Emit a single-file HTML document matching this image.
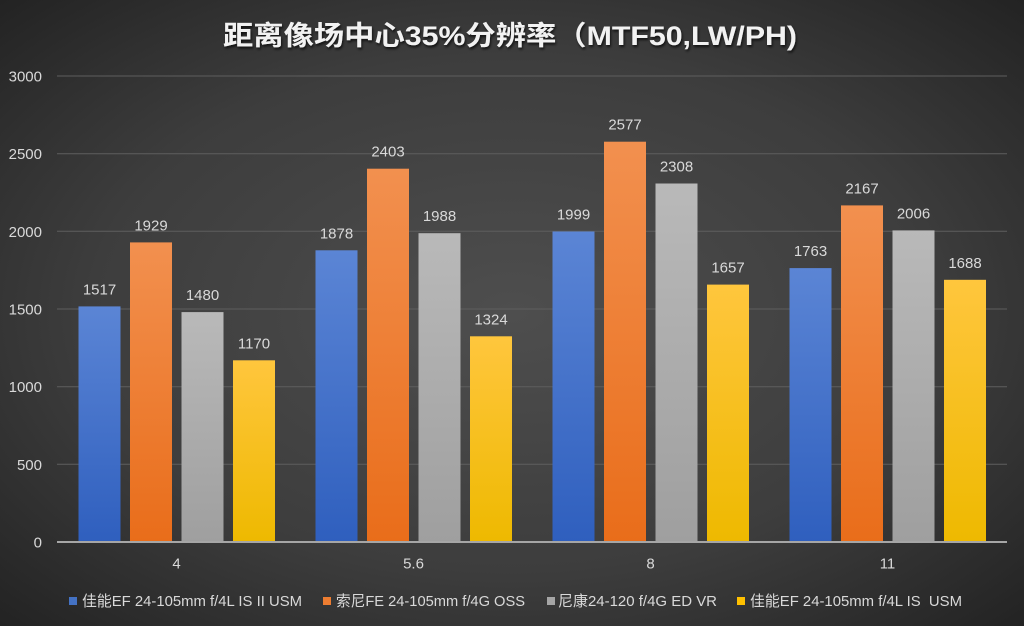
<!DOCTYPE html>
<html>
<head>
<meta charset="utf-8">
<style>
html,body{margin:0;padding:0;background:#333;}
svg{display:block;}
text{font-family:"Liberation Sans","Noto Sans CJK SC",sans-serif;}
</style>
</head>
<body>
<svg width="1024" height="626" viewBox="0 0 1024 626" xmlns="http://www.w3.org/2000/svg">
<defs>
  <radialGradient id="bg" cx="50%" cy="50%" r="75%">
    <stop offset="0%" stop-color="#4e4e4e"/>
    <stop offset="55%" stop-color="#3d3d3d"/>
    <stop offset="100%" stop-color="#1f1f1f"/>
  </radialGradient>
  <linearGradient id="gb" x1="0" y1="0" x2="0" y2="1">
    <stop offset="0%" stop-color="#5b85d5"/>
    <stop offset="100%" stop-color="#2f5fbe"/>
  </linearGradient>
  <linearGradient id="go" x1="0" y1="0" x2="0" y2="1">
    <stop offset="0%" stop-color="#f2904f"/>
    <stop offset="100%" stop-color="#e96d1a"/>
  </linearGradient>
  <linearGradient id="gg" x1="0" y1="0" x2="0" y2="1">
    <stop offset="0%" stop-color="#b9b9b9"/>
    <stop offset="100%" stop-color="#9f9f9f"/>
  </linearGradient>
  <linearGradient id="gy" x1="0" y1="0" x2="0" y2="1">
    <stop offset="0%" stop-color="#ffc63d"/>
    <stop offset="100%" stop-color="#eeb900"/>
  </linearGradient>
  <filter id="sh" x="-5%" y="-20%" width="110%" height="150%">
    <feDropShadow dx="1" dy="2" stdDeviation="1.2" flood-color="#000" flood-opacity="0.7"/>
  </filter>
</defs>
<rect x="0" y="0" width="1024" height="626" fill="url(#bg)"/>

<!-- title -->
<text x="510" y="45" text-anchor="middle" font-size="27" font-weight="bold" fill="#f2f2f2" filter="url(#sh)" textLength="574" lengthAdjust="spacingAndGlyphs">距离像场中心35%分辨率（MTF50,LW/PH)</text>

<!-- gridlines -->
<g stroke="#5e5e5e" stroke-width="1">
  <line x1="57" y1="76" x2="1007" y2="76"/>
  <line x1="57" y1="153.7" x2="1007" y2="153.7"/>
  <line x1="57" y1="231.3" x2="1007" y2="231.3"/>
  <line x1="57" y1="309" x2="1007" y2="309"/>
  <line x1="57" y1="386.7" x2="1007" y2="386.7"/>
  <line x1="57" y1="464.3" x2="1007" y2="464.3"/>
</g>

<!-- y labels -->
<g font-size="15" fill="#d9d9d9" text-anchor="end">
  <text x="42" y="81.5">3000</text>
  <text x="42" y="159.2">2500</text>
  <text x="42" y="236.8">2000</text>
  <text x="42" y="314.5">1500</text>
  <text x="42" y="392.2">1000</text>
  <text x="42" y="469.8">500</text>
  <text x="42" y="547.5">0</text>
</g>

<!-- bars -->
<g>
  <rect x="78.5" y="306.4" width="42" height="235.6" fill="url(#gb)"/>
  <rect x="130" y="242.4" width="42" height="299.6" fill="url(#go)"/>
  <rect x="181.5" y="312.1" width="42" height="229.9" fill="url(#gg)"/>
  <rect x="233" y="360.3" width="42" height="181.7" fill="url(#gy)"/>

  <rect x="315.5" y="250.3" width="42" height="291.7" fill="url(#gb)"/>
  <rect x="367" y="168.7" width="42" height="373.3" fill="url(#go)"/>
  <rect x="418.5" y="233.2" width="42" height="308.8" fill="url(#gg)"/>
  <rect x="470" y="336.3" width="42" height="205.7" fill="url(#gy)"/>

  <rect x="552.5" y="231.5" width="42" height="310.5" fill="url(#gb)"/>
  <rect x="604" y="141.7" width="42" height="400.3" fill="url(#go)"/>
  <rect x="655.5" y="183.5" width="42" height="358.5" fill="url(#gg)"/>
  <rect x="707" y="284.6" width="42" height="257.4" fill="url(#gy)"/>

  <rect x="789.5" y="268.1" width="42" height="273.9" fill="url(#gb)"/>
  <rect x="841" y="205.4" width="42" height="336.6" fill="url(#go)"/>
  <rect x="892.5" y="230.4" width="42" height="311.6" fill="url(#gg)"/>
  <rect x="944" y="279.8" width="42" height="262.2" fill="url(#gy)"/>
</g>

<!-- axis line -->
<line x1="57" y1="542" x2="1007" y2="542" stroke="#a6a6a6" stroke-width="2"/>

<!-- value labels -->
<g font-size="15" fill="#d9d9d9" text-anchor="middle">
  <text x="99.5" y="294.4">1517</text>
  <text x="151" y="230.4">1929</text>
  <text x="202.5" y="300.1">1480</text>
  <text x="254" y="348.3">1170</text>

  <text x="336.5" y="238.3">1878</text>
  <text x="388" y="156.7">2403</text>
  <text x="439.5" y="221.2">1988</text>
  <text x="491" y="324.3">1324</text>

  <text x="573.5" y="219.5">1999</text>
  <text x="625" y="129.7">2577</text>
  <text x="676.5" y="171.5">2308</text>
  <text x="728" y="272.6">1657</text>

  <text x="810.5" y="256.1">1763</text>
  <text x="862" y="193.4">2167</text>
  <text x="913.5" y="218.4">2006</text>
  <text x="965" y="267.8">1688</text>
</g>

<!-- category labels -->
<g font-size="15" fill="#d9d9d9" text-anchor="middle">
  <text x="176.5" y="568.5">4</text>
  <text x="413.5" y="568.5">5.6</text>
  <text x="650.5" y="568.5">8</text>
  <text x="887.5" y="568.5">11</text>
</g>

<!-- legend -->
<g font-size="15" fill="#d9d9d9">
  <rect x="69" y="597" width="8" height="8" fill="#4472c4"/>
  <text x="82" y="606" textLength="220" lengthAdjust="spacingAndGlyphs">佳能EF 24-105mm f/4L IS II USM</text>
  <rect x="323" y="597" width="8" height="8" fill="#ed7d31"/>
  <text x="336" y="606" textLength="189" lengthAdjust="spacingAndGlyphs">索尼FE 24-105mm f/4G OSS</text>
  <rect x="547" y="597" width="8" height="8" fill="#a5a5a5"/>
  <text x="558" y="606" textLength="159" lengthAdjust="spacingAndGlyphs">尼康24-120 f/4G ED VR</text>
  <rect x="737" y="597" width="8" height="8" fill="#ffc000"/>
  <text x="750" y="606" textLength="212" lengthAdjust="spacingAndGlyphs">佳能EF 24-105mm f/4L IS&#160; USM</text>
</g>
</svg>
</body>
</html>
